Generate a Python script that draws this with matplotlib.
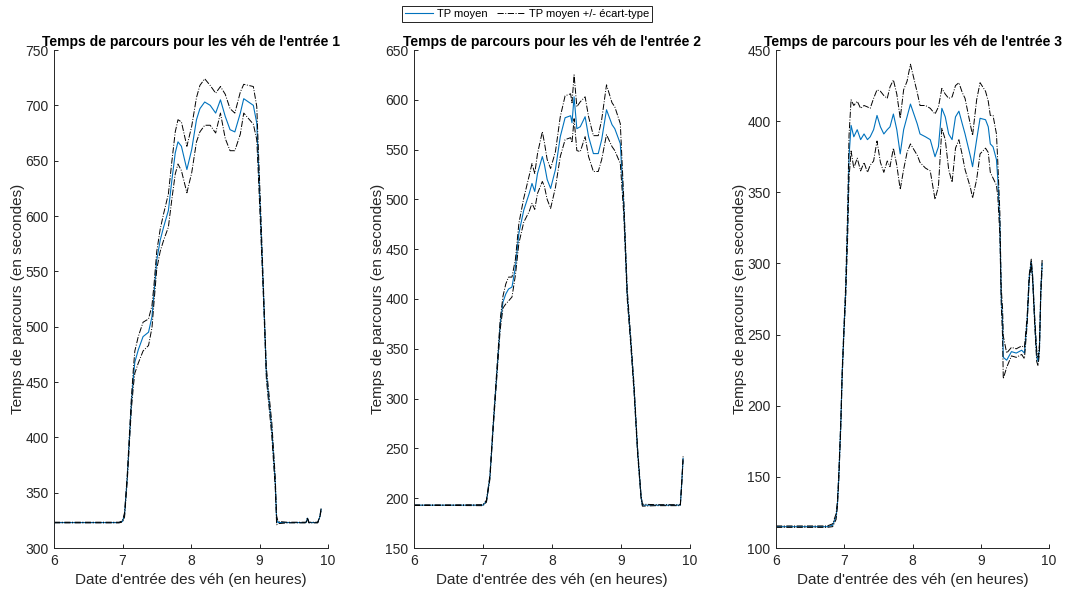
import matplotlib
matplotlib.use("Agg")
import matplotlib.pyplot as plt
import numpy as np

matplotlib.rc("font", family=["Liberation Sans", "DejaVu Sans"])

# Entry 1
t1 = [6.0, 6.5, 6.95, 7.0, 7.03, 7.07, 7.10, 7.13, 7.16, 7.18, 7.23, 7.30,
      7.38, 7.43, 7.46, 7.50, 7.55, 7.60, 7.67, 7.72, 7.77, 7.81, 7.86, 7.94,
      8.01, 8.08, 8.13, 8.20, 8.28, 8.36, 8.43, 8.50, 8.57, 8.64, 8.72, 8.77,
      8.84, 8.91, 8.96, 8.98, 9.01, 9.06, 9.10, 9.18, 9.23, 9.25, 9.27, 9.4,
      9.5, 9.6, 9.68, 9.70, 9.72, 9.8, 9.85, 9.88, 9.90]
m1 = [323, 323, 323, 324, 330, 364, 398, 431, 455, 468, 479, 491, 495, 509,
      530, 560, 578, 590, 605, 632, 657, 667, 663, 642, 660, 687, 697, 703,
      700, 693, 705, 690, 678, 676, 693, 706, 703, 700, 684, 654, 608, 527,
      458, 407, 359, 325, 323, 323, 323, 323, 323, 327, 323, 323, 323, 328,
      335]
sd1 = [0.3, 0.3, 0.3, 0.5, 2, 3, 4, 5, 8, 10, 12, 13, 12, 10, 8, 8, 10, 12,
       15, 17, 19, 20, 22, 21, 21, 20, 21, 21, 18, 18, 12, 20, 19, 17, 19, 13,
       15, 17, 15, 12, 10, 5, 5, 6, 5, 4, 1, 0.3, 0.3, 0.3, 0.3, 0.5, 0.3,
       0.3, 0.3, 0.5, 1]

# Entry 2
t2 = [6.0, 6.5, 7.0, 7.05, 7.10, 7.15, 7.20, 7.25, 7.29, 7.33, 7.37, 7.42,
      7.47, 7.52, 7.59, 7.67, 7.71, 7.75, 7.79, 7.86, 7.89, 7.93, 7.98, 8.05,
      8.12, 8.19, 8.27, 8.29, 8.32, 8.36, 8.41, 8.48, 8.53, 8.60, 8.67, 8.72,
      8.79, 8.87, 8.91, 8.99, 9.04, 9.09, 9.14, 9.19, 9.24, 9.29, 9.31, 9.5,
      9.7, 9.86, 9.88, 9.90]
m2 = [193, 193, 193, 197, 221, 275, 325, 375, 397, 405, 410, 412, 432, 466,
      489, 506, 516, 508, 526, 543, 535, 520, 511, 530, 563, 582, 584, 577,
      603, 571, 573, 583, 563, 546, 546, 560, 590, 575, 571, 556, 493, 405,
      359, 309, 248, 202, 193, 193, 193, 193, 215, 240]
sd2 = [0.3, 0.3, 0.5, 1, 2, 3, 4, 5, 6, 10, 12, 10, 8, 10, 12, 18, 20, 18,
       20, 25, 22, 20, 20, 18, 20, 22, 22, 20, 22, 22, 25, 20, 20, 18, 18, 20,
       25, 22, 22, 20, 8, 5, 4, 4, 3, 2, 1, 0.5, 0.5, 0.5, 1, 2]

# Entry 3
t3 = [6.0, 6.5, 6.75, 6.83, 6.88, 6.90, 6.92, 6.95, 6.97, 7.00, 7.02, 7.05,
      7.07, 7.10, 7.14, 7.19, 7.24, 7.29, 7.34, 7.38, 7.43, 7.48, 7.53, 7.58,
      7.63, 7.67, 7.72, 7.77, 7.82, 7.87, 7.92, 7.97, 8.02, 8.07, 8.11, 8.19,
      8.26, 8.33, 8.38, 8.43, 8.48, 8.53, 8.58, 8.63, 8.68, 8.73, 8.77, 8.85,
      8.88, 8.94, 8.99, 9.07, 9.11, 9.14, 9.18, 9.23, 9.25, 9.28, 9.30, 9.32,
      9.33, 9.38, 9.45, 9.52, 9.60, 9.64, 9.68, 9.71, 9.74, 9.76, 9.79, 9.82,
      9.84, 9.86, 9.88, 9.90]
m3 = [115, 115, 115, 116, 122, 131, 150, 188, 223, 258, 279, 328, 375, 397,
      389, 394, 387, 391, 387, 389, 394, 404, 396, 391, 394, 396, 405, 394,
      377, 394, 403, 412, 405, 398, 391, 389, 387, 375, 382, 409, 403, 391,
      387, 403, 407, 398, 391, 375, 368, 387, 402, 401, 396, 384, 382, 373,
      359, 328, 277, 258, 234, 232, 238, 237, 239, 237, 260, 290, 301, 290,
      260, 235, 231, 240, 280, 300]
sd3 = [0.5, 0.5, 0.5, 1, 2, 2, 3, 3, 3, 3, 5, 10, 15, 18, 22, 20, 22, 20, 23,
       20, 22, 18, 25, 27, 22, 28, 24, 25, 25, 28, 25, 28, 25, 22, 20, 22, 22,
       30, 28, 14, 16, 25, 30, 22, 20, 22, 25, 22, 22, 28, 25, 20, 18, 20, 22,
       18, 12, 8, 6, 10, 15, 5, 3, 3, 3, 4, 3, 2, 2, 2, 3, 4, 3, 3, 3, 3]

series = [(t1, m1, sd1, (300, 750)), (t2, m2, sd2, (150, 650)),
          (t3, m3, sd3, (100, 450))]
lefts = [54, 414, 776]
widths = [274, 276, 273]

grey = (0.15, 0.15, 0.15)
blue = (0, 0.447, 0.741)
W, H = 1069, 591
fig = plt.figure(figsize=(W / 100, H / 100), dpi=100)

for i, (t, m, sd, ylim) in enumerate(series):
    ax = fig.add_axes([lefts[i] / W, 43 / H, widths[i] / W, 498 / H])
    t = np.array(t)
    m = np.array(m, dtype=float)
    sd = np.array(sd, dtype=float)
    l1, = ax.plot(t, m, color=blue, lw=0.8, label="TP moyen")
    l2, = ax.plot(t, m + sd, color="k", lw=0.7, ls="-.",
                  label="TP moyen +/- écart-type")
    ax.plot(t, m - sd, color="k", lw=0.7, ls="-.")
    ax.set_xlim(6, 10)
    ax.set_ylim(*ylim)
    ax.set_xticks([6, 7, 8, 9, 10])
    ax.set_yticks(np.arange(ylim[0], ylim[1] + 1, 50))
    ax.spines["top"].set_visible(False)
    ax.spines["right"].set_visible(False)
    for s in ("left", "bottom"):
        ax.spines[s].set_color(grey)
        ax.spines[s].set_linewidth(0.7)
    ax.tick_params(direction="in", length=3, width=0.7, colors=grey,
                   labelsize=10, pad=4)
    ax.set_xlabel("Date d'entrée des véh (en heures)", fontsize=11,
                  color=grey, labelpad=4)
    ax.set_ylabel("Temps de parcours (en secondes)", fontsize=11,
                  color=grey, labelpad=0)
    ax.set_title("Temps de parcours pour les véh de l'entrée %d" % (i + 1),
                 fontsize=10, fontweight="bold", pad=3)

fig.legend([l1, l2], ["TP moyen", "TP moyen +/- écart-type"], ncol=2,
           loc="center", bbox_to_anchor=(527 / W, 1 - 14 / H), fontsize=8,
           frameon=True, fancybox=False, edgecolor="k", framealpha=1,
           handlelength=2.5, columnspacing=0.8, handletextpad=0.4,
           borderpad=0.3).get_frame().set_linewidth(0.6)

fig.savefig("out.png", dpi=100)
